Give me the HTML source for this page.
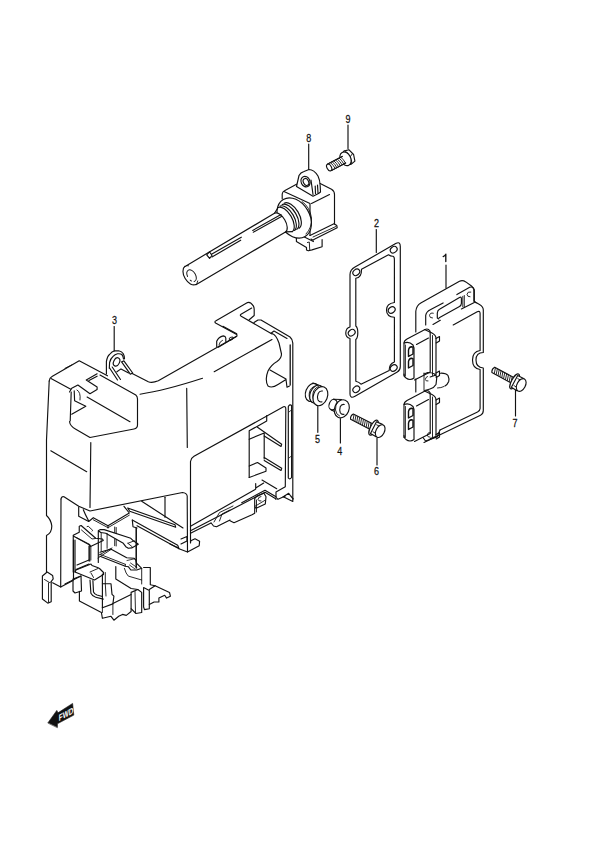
<!DOCTYPE html>
<html><head><meta charset="utf-8"><style>
html,body{margin:0;padding:0;background:#fff;}
svg{display:block;}
text{font-family:"Liberation Sans",sans-serif;font-size:11px;fill:#111;text-anchor:middle;stroke:#111;stroke-width:0.25px;}
</style></head><body>
<svg width="600" height="850" viewBox="0 0 600 850">
<g fill="none" stroke="#111" stroke-width="1.15" stroke-linecap="round" stroke-linejoin="round">
<text transform="translate(348 123) scale(0.82 1)">9</text>
<path d="M348.0,125.0 L348.0,148.5"/>
<text transform="translate(308.7 141.5) scale(0.82 1)">8</text>
<path d="M308.7,144.0 L308.7,169.5"/>
<text transform="translate(376.4 227) scale(0.82 1)">2</text>
<path d="M376.3,229.5 L376.3,252.5"/>
<path d="M443.2,256.6 Q445,255.8 445.8,254.2 L445.8,261.6" stroke-width="1.35"/>
<path d="M446.0,265.0 L446.0,288.0"/>
<text transform="translate(114.4 324) scale(0.82 1)">3</text>
<path d="M114.2,326.5 L114.2,351.0"/>
<text transform="translate(317.5 443) scale(0.82 1)">5</text>
<path d="M317.8,406.5 L317.8,432.3"/>
<text transform="translate(339.8 455) scale(0.82 1)">4</text>
<path d="M340.4,418.6 L340.4,443.0"/>
<text transform="translate(376.6 474.8) scale(0.82 1)">6</text>
<path d="M377.0,438.0 L377.0,465.0"/>
<text transform="translate(515 426.5) scale(0.82 1)">7</text>
<path d="M515.5,390.0 L515.5,416.0"/>
<path d="M282.2,199 L282.2,194 Q282.5,191.8 284.5,190.8 L296.5,184.2"/>
<path d="M320.2,183.5 L331.5,189.2 Q334.5,191 334.5,194.5 L334.5,224"/>
<path d="M284,191.5 L310,203.5 L310,235.5"/>
<path d="M311.5,203.5 L329.5,194.5"/>
<path d="M310,235.5 L334,223.7 L336.8,225.6 L337.2,227.8 L314.3,239.3 L313,240.2 L311,239"/>
<path d="M313.0,237.0 L335.9,226.5" stroke-width="0.9"/>
<path d="M296.4,237.5 L296.4,241.6 L306.5,247.6 L306.5,249.9 L308.3,250.8 L312,249.9 L322.1,246.7 L322.1,239.5"/>
<path d="M302.4,236.1 L313.4,241.6"/>
<path d="M307.4,242.5 L309.3,242 L309.7,249.9" stroke-width="0.9"/>
<path d="M296.5,186.5 L299,175.5 Q300.5,172.5 304,171.5 L309,169.5 Q314,169.5 318,176 Q320,180 320.2,186 L320.5,192 L318.5,193.5"/>
<path d="M296.5,186.5 L313,196.2 L318.5,193.5"/>
<ellipse cx="305.5" cy="181.6" rx="4.4" ry="5.4" transform="rotate(-25 305.5 181.6)"/>
<ellipse cx="306.0" cy="182.0" rx="2.6" ry="3.6" transform="rotate(-25 306.0 182.0)"/>
<path d="M311,180 L313,194.5"/>
<path d="M315.2,186 L315.5,193.5"/>
<path d="M317.5,185 L318,193"/>
<ellipse cx="294.2" cy="218.0" rx="15.5" ry="21.5" transform="rotate(-30.5 294.2 218.0)" fill="#fff"/>
<path d="M302,201.5 Q310,207 311.5,218 Q312,228 306,234" stroke-width="0.9"/>
<path d="M278.1,207.5 A7,14 -30.5 0 1 292.3,231.6"/>
<path d="M280.1,206.1 A7.2,14.2 -30.5 0 1 294.5,230.5"/>
<path d="M282.2,204.6 A7.4,14.4 -30.5 0 1 296.8,229.4"/>
<path d="M284.2,203.2 A7.6,14.6 -30.5 0 1 299.1,228.3"/>
<path d="M274.5,213.3 L278.1,207.5"/>
<path d="M285.5,231.9 L292.3,231.6"/>
<path d="M185.1,266.4 L274.5,213.3 A5.5,10.8 -30.5 0 1 285.5,231.9 L195.9,284.7 Z" stroke-width="0.01" fill="#fff"/>
<path d="M185.1,266.4 L274.5,213.3"/>
<path d="M195.9,284.7 L285.5,231.9"/>
<path d="M274.5,213.3 A5.5,10.8 -30.5 0 1 285.5,231.9"/>
<path d="M185.0,266.3 A6.5,10.6 -30.5 0 0 195.8,284.5"/>
<path d="M186.4,265.6 L188.5,265.8" stroke-width="0.9"/>
<path d="M197.7,280.9 L196.8,283.9" stroke-width="0.9"/>
<ellipse cx="191.6" cy="275.7" rx="4.0" ry="6.4" transform="rotate(-30.5 191.6 275.7)" stroke-width="0.95" stroke-dasharray="9 2.5 1.5 4.5 15"/>
<path d="M211.5,254.3 L241.3,237.2"/>
<path d="M212.0,257.0 L240.7,240.2"/>
<path d="M252.7,230.4 L281.0,214.6"/>
<path d="M253.3,232.2 L281.5,216.6"/>
<path d="M206.7,254.8 L209.5,251.8 L212.0,255.5 L209.6,258.4 Z"/>
<path d="M373.1,424.1 L353.3,414.0 Q350.1,415.8 350.6,419.3 L370.3,429.4"/>
<path d="M354.0,414.8 L353.0,420.2" stroke-width="0.9"/>
<path d="M355.9,415.8 L354.9,421.1" stroke-width="0.9"/>
<path d="M357.7,416.7 L356.8,422.1" stroke-width="0.9"/>
<path d="M359.6,417.7 L358.7,423.0" stroke-width="0.9"/>
<path d="M361.5,418.6 L360.6,424.0" stroke-width="0.9"/>
<path d="M363.4,419.6 L362.5,425.0" stroke-width="0.9"/>
<path d="M365.3,420.6 L364.3,425.9" stroke-width="0.9"/>
<path d="M367.2,421.5 L366.2,426.9" stroke-width="0.9"/>
<path d="M369.0,422.5 L368.1,427.8" stroke-width="0.9"/>
<path d="M370.9,423.4 L370.0,428.8" stroke-width="0.9"/>
<ellipse cx="373.5" cy="427.6" rx="3.0" ry="8.3" transform="rotate(27 373.5 427.6)" fill="#fff"/>
<path d="M376.5,421.8 L382.4,424.4 L383.7,427.5 L379.3,436.0 L376.1,436.8 L370.5,433.5 Z" fill="#fff"/>
<path d="M376.6,424.8 L379.8,426.3" stroke-width="0.9"/>
<path d="M373.0,431.8 L376.1,433.6" stroke-width="0.9"/>
<ellipse cx="380.2" cy="431.1" rx="4.2" ry="6.8" transform="rotate(27 380.2 431.1)" fill="#fff"/>
<path d="M514.2,377.8 L494.7,367.2 Q491.5,368.9 491.9,372.5 L511.4,383.1"/>
<path d="M495.4,368.1 L494.3,373.4" stroke-width="0.9"/>
<path d="M497.3,369.1 L496.2,374.4" stroke-width="0.9"/>
<path d="M499.1,370.1 L498.1,375.4" stroke-width="0.9"/>
<path d="M501.0,371.1 L499.9,376.4" stroke-width="0.9"/>
<path d="M502.8,372.1 L501.8,377.4" stroke-width="0.9"/>
<path d="M504.7,373.1 L503.6,378.4" stroke-width="0.9"/>
<path d="M506.6,374.1 L505.5,379.5" stroke-width="0.9"/>
<path d="M508.4,375.1 L507.3,380.5" stroke-width="0.9"/>
<path d="M510.3,376.1 L509.2,381.5" stroke-width="0.9"/>
<path d="M512.1,377.1 L511.0,382.5" stroke-width="0.9"/>
<ellipse cx="514.6" cy="381.4" rx="3.0" ry="8.3" transform="rotate(28.5 514.6 381.4)" fill="#fff"/>
<path d="M517.7,375.6 L523.6,378.4 L524.8,381.5 L520.2,389.9 L516.9,390.7 L511.4,387.2 Z" fill="#fff"/>
<path d="M517.8,378.7 L520.9,380.2" stroke-width="0.9"/>
<path d="M514.0,385.6 L517.0,387.4" stroke-width="0.9"/>
<ellipse cx="521.2" cy="385.0" rx="4.2" ry="6.8" transform="rotate(28.5 521.2 385.0)" fill="#fff"/>
<path d="M341.3,154.8 L343.9,151.1 L348.8,149.7 L353.6,154.5 L354.9,161.1 L351.0,164.4 L346.5,164.5 Z" fill="#fff"/>
<path d="M344.9,150.9 L347.9,153.2 M352.5,153.4 L350.3,156.8 M351.7,163.6 L351.5,160.1" stroke-width="0.9"/>
<ellipse cx="345.5" cy="158.8" rx="5.2" ry="7.2" transform="rotate(-28 345.5 158.8)" fill="#fff"/>
<path d="M342.2,156.4 L327.9,164.0 M331.3,170.5 L345.6,162.9" fill="#fff"/>
<path d="M327.9,164.0 L342.2,156.4 L345.6,162.9 L331.3,170.5 Z" stroke-width="0.01" fill="#fff"/>
<path d="M342.2,156.4 L327.9,164.0"/>
<path d="M331.3,170.5 L345.6,162.9"/>
<ellipse cx="329.2" cy="167.5" rx="2.2" ry="3.7" transform="rotate(-28 329.2 167.5)"/>
<path d="M330.7,162.8 Q333.4,165.2 335.0,168.2" stroke-width="0.9"/>
<path d="M332.4,161.9 Q335.1,164.3 336.7,167.3" stroke-width="0.9"/>
<path d="M334.1,161.0 Q336.8,163.4 338.4,166.4" stroke-width="0.9"/>
<path d="M335.8,160.1 Q338.6,162.5 340.2,165.5" stroke-width="0.9"/>
<path d="M337.5,159.2 Q340.3,161.5 341.9,164.5" stroke-width="0.9"/>
<path d="M339.3,158.2 Q342.0,160.6 343.6,163.6" stroke-width="0.9"/>
<path d="M341.0,157.3 Q343.7,159.7 345.3,162.7" stroke-width="0.9"/>
<path d="M355,267 L395.7,243.6 Q400.3,241 400.3,246.5 L400.3,366.5 Q400.3,370.3 397.3,372 L355,396.2 Q350,399 350,394 L350,338.5 Q345.5,337.5 345.8,332.7 Q346,328 350,327 L350,274.5 Q350,269.8 355,267 Z"/>
<path d="M361.5,269.3 L388.5,254.8 Q391,256.5 393,256.2 Q394.5,256.5 394.4,260 L394.4,302.5 Q386.5,303.5 386.5,310 Q386.5,316.8 394.4,317.3 L394.4,362 Q389,364 389.2,370.5 L361,384.2 Q359,382 355.8,381.2 L355.8,339.5 Q357.8,338 357.8,332.7 Q357.8,327.5 355.8,326 L355.8,278.3 Q361.8,277.6 361.5,269.3 Z"/>
<ellipse cx="356.3" cy="272.3" rx="3.7" ry="2.9" transform="rotate(-40 356.3 272.3)"/>
<ellipse cx="393.7" cy="249.7" rx="3.7" ry="2.9" transform="rotate(-40 393.7 249.7)"/>
<ellipse cx="391.7" cy="310.0" rx="3.7" ry="2.9" transform="rotate(-40 391.7 310.0)"/>
<ellipse cx="351.7" cy="332.7" rx="3.7" ry="2.9" transform="rotate(-40 351.7 332.7)"/>
<ellipse cx="393.7" cy="368.0" rx="3.7" ry="2.9" transform="rotate(-40 393.7 368.0)"/>
<ellipse cx="356.3" cy="389.3" rx="3.7" ry="2.9" transform="rotate(-40 356.3 389.3)"/>
<path d="M415.8,332 L415.8,311.3 Q416.5,305.5 420.8,303.1 L459.5,281.3 Q462.5,279.8 465.8,281.9 L471.5,286 Q473.9,288 473.9,291 L473.9,301.3 L479.5,304.4 Q483.3,306.5 483.3,310 L483.3,352.5 Q476,352.5 476,360 Q476,367.5 483.3,368 L483.3,410.5 Q483.3,413.8 480.5,415.3 L424,442.5"/>
<path d="M453.2,325 L477.2,311.8 Q480.1,310.5 480.1,313.5 L480.1,350.5 Q472.5,351.5 472.5,360 Q472.5,368.5 480.1,369.5 L480.1,408.5 Q480.1,410.5 477.5,412 L440,430"/>
<path d="M425.7,325 L425.7,315.3 Q426.5,311.5 430.3,309.8 L443.1,302.9"/>
<path d="M456.9,294.6 L469.7,287.3 Q473,286 474.3,289.6 L474.3,301.5 L476.1,302.9"/>
<path d="M461.4,308.9 L474.3,302.4"/>
<path d="M433.0,324.4 L440.3,320.3"/>
<path d="M438.8,319 L437.3,318 L437.3,313 Q437.6,310.3 439.5,309.3 L459.5,297.5 Q461.4,296.5 461.4,298.5 L461.4,303.4 Q461.3,305.5 459.5,306.5 L439.2,317.8"/>
<path d="M462.8,296.3 L462.8,306.8" stroke-width="0.9"/>
<path d="M464.3,295.5 L464.3,307.5" stroke-width="0.9"/>
<path d="M433.3,313.2 Q430,312.3 429.5,315.5 Q429.6,318.2 432.5,318" stroke-width="0.9"/>
<path d="M470.8,292 Q467.5,291.2 467,294.3 Q467.2,297 470,296.8" stroke-width="0.9"/>
<path d="M404,376 L404,343.5 Q404,340.5 407,339 L425,329.5 Q428,328 430,331 L430.2,334 L430.2,372 L414.5,380"/>
<path d="M404,343 Q409,341 413,345 L414,348 L414,378 Q410,381 406,378 Q404,377 404,374"/>
<path d="M405.5,345.0 L405.5,376.0" stroke-width="0.8"/>
<path d="M416.5,344.5 L428.5,338.0"/>
<path d="M408.5,350 Q409,347 411.5,346.8 L413,347.2 L413,354 L408.5,356.5 Z" stroke-width="1.4"/>
<path d="M408.5,361.5 Q409,358.5 411.5,358.3 L413,358.7 L413,365.5 L408.5,368 Z" stroke-width="1.4"/>
<path d="M424.5,329.5 L432,333 Q435.8,335 436,338 L436,375 L430.2,377"/>
<path d="M432.5,335.5 L432.5,375.5" stroke-width="0.9"/>
<path d="M436.0,338.5 L439.5,336.5 L439.5,341.0 L436.2,343.0"/>
<path d="M436.0,373.0 L439.5,371.0 L439.5,375.5 L436.2,377.5"/>
<path d="M404,437.5 L404,405.0 Q404,402.0 407,400.5 L425,391.0 Q428,389.5 430,392.5 L430.2,395.5 L430.2,433.5 L414.5,441.5"/>
<path d="M404,404.5 Q409,402.5 413,406.5 L414,409.5 L414,439.5 Q410,442.5 406,439.5 Q404,438.5 404,435.5"/>
<path d="M405.5,406.5 L405.5,437.5" stroke-width="0.8"/>
<path d="M416.5,406.0 L428.5,399.5"/>
<path d="M408.5,411.5 Q409,408.5 411.5,408.3 L413,408.7 L413,415.5 L408.5,418.0 Z" stroke-width="1.4"/>
<path d="M408.5,423.0 Q409,420.0 411.5,419.8 L413,420.2 L413,427.0 L408.5,429.5 Z" stroke-width="1.4"/>
<path d="M424.5,391.0 L432,394.5 Q435.8,396.5 436,399.5 L436,436.5 L430.2,438.5"/>
<path d="M432.5,397.0 L432.5,437.0" stroke-width="0.9"/>
<path d="M436.0,400.0 L439.5,398.0 L439.5,402.5 L436.2,404.5"/>
<path d="M436.0,434.5 L439.5,432.5 L439.5,437.0 L436.2,439.0"/>
<path d="M415.8,379.0 L415.8,392.0"/>
<path d="M424.0,373.0 L424.0,390.5" stroke-width="0.9"/>
<path d="M424,374 L427.7,372.5 Q432,372.5 434.5,374 Q437,376 436.7,378.5 L436,384.5 Q434,388 430,389 L424.7,390.5"/>
<path d="M427.5,376.5 Q425.5,377 425.3,379.5 Q425.7,381.5 428,381" stroke-width="0.9"/>
<path d="M440.5,373.2 Q446,373 448,375.5 Q449.5,379 448.7,381.5 Q447.5,384.5 445,386"/>
<path d="M437.5,388 Q441,388 444,386.5" stroke-width="0.9"/>
<path d="M430.5,432.5 Q427.5,432 427.3,435 Q427.5,437.5 430,437.2" stroke-width="0.9"/>
<path d="M423,437.5 L425.5,441 L437,437 L440,430"/>
<ellipse cx="312.3" cy="392.4" rx="6.6" ry="9.4" transform="rotate(22 312.3 392.4)" fill="#fff"/>
<path d="M315.3,386 Q310.5,387 309.3,393 Q308.5,399 312,402.5" stroke-width="0.9"/>
<path d="M312.8,383 L321.5,386.2 M311.8,401.8 L320.5,405.5"/>
<ellipse cx="316.5" cy="394.2" rx="6.4" ry="9.3" transform="rotate(22 316.5 394.2)" fill="#fff"/>
<path d="M318.5,386.5 Q313,388.5 312.8,395 Q312.5,401 316.5,404" stroke-width="0.9"/>
<ellipse cx="320.4" cy="396.2" rx="7.0" ry="9.9" transform="rotate(22 320.4 396.2)" fill="#fff"/>
<path d="M322.5,391 Q319.5,390.5 318.2,393.5 Q316.8,397 318,400 Q319.5,402.5 322,401.8" stroke-width="1.1"/>
<ellipse cx="333.0" cy="404.6" rx="3.8" ry="5.4" transform="rotate(22 333.0 404.6)" fill="#fff"/>
<path d="M333.5,399.2 L341.5,399.5 M331.5,410 L339.5,414"/>
<ellipse cx="341.8" cy="408.8" rx="7.2" ry="9.3" transform="rotate(22 341.8 408.8)" fill="#fff"/>
<path d="M338,401.5 Q335,405 335.5,410 Q336,414.5 339.5,416" stroke-width="0.9"/>
<path d="M344.3,404.5 Q341.5,404 340.2,406.8 Q339.2,410 340.3,412.8 Q341.8,415 344,414.2" stroke-width="1.1"/>
<path d="M48,722.7 L56.8,710.4 L58,712.8 L72.6,703.4 L73.8,715.1 L57.4,723.8 L57.4,727.3 Z" stroke-width="0.6" fill="#111"/>
<text x="0" y="0" textLength="14.5" lengthAdjust="spacingAndGlyphs" transform="matrix(1,-0.55,0,1,58.8,721.2)" style="font-size:9px;font-weight:bold;fill:#fff;stroke:none;text-anchor:start;">FWD</text>
<path d="M49.2,381 Q49.5,377.8 52,376.5 L79.2,360.8 L107.5,375.8"/>
<path d="M70.8,389.2 L51,378.6"/>
<path d="M100,375 L135.8,395 Q137.5,396.5 137.5,399 L137.5,425 Q137.5,428.3 134,429 L90,437.5 L75.8,429.2 Q70,426 69.5,421.5"/>
<path d="M87.1,397.1 L130.0,421.7"/>
<path d="M97.1,373.75 L86.25,380 L97.1,387.1 L97.1,389.6 L90,393.75 L77.9,385 L71.7,388.3 L69.5,392"/>
<path d="M97.1,376.2 L89,380.5"/>
<path d="M74.2,390.8 L74.6,400.8 L85.8,406.25 L71.7,414.2"/>
<path d="M71.2,392 L70.2,421"/>
<path d="M77,390 Q81,392 80,400" stroke-width="0.9"/>
<path d="M65,368.3 L71.7,365" stroke-width="0.9"/>
<path d="M106.4,374 L106.4,361.3 Q107.5,356 109.5,354.5 Q112,351.5 114.6,350.8 L118.7,350.8 Q122,351.5 123.3,353.8 Q124.5,356 124.5,358.8"/>
<path d="M109.3,368.3 L109.6,362.5 Q110.5,358.5 112.8,356.7 Q115,354.3 117.5,353.8 Q120.5,353.5 121.8,354.5 Q123.3,356 123.5,359"/>
<ellipse cx="116.6" cy="361.9" rx="2.9" ry="4.4" transform="rotate(25 116.6 361.9)"/>
<path d="M109.6,368.0 L117.5,380.0"/>
<path d="M112.2,367.0 L120.5,379.5"/>
<path d="M121.6,361.9 L123.9,360.8 L132.7,373.0 L130.3,374.2 L121.6,361.9"/>
<path d="M116.9,371.8 L121,368.9 L128.6,373"/>
<path d="M131.7,373.3 L148.3,381.7 Q152,383.3 158.3,380.8 L236.7,336.3"/>
<path d="M140,394.2 Q165,390.5 202.5,378.3"/>
<path d="M214.2,371.7 L272.0,339.5"/>
<path d="M186.7,388.3 L187.3,447.5"/>
<path d="M49.2,381 L46.5,440 L46.5,515.5 Q51,519.5 51.8,526 Q51.8,533 46.5,535.5 L46.5,572.5"/>
<path d="M50.8,450.8 L86.7,471.7"/>
<path d="M90.8,442.5 L90.0,507.5"/>
<path d="M216.7,346.5 L216.7,341.3 Q218.5,337 223.3,335.9 Q225.5,336 225.8,338 L225.8,341.5"/>
<path d="M219,344.8 Q219.5,341.5 222.5,340.3" stroke-width="0.9"/>
<path d="M218.3,347.2 L236.7,336.3 Q237.5,335 236.7,334.5 L216,323.2 Q213.8,321.8 216,320.8 L247.5,302.6 Q250.5,301.5 253.3,305.9 Q254.2,307.5 254.2,309.5 L254.2,315.5 L249.2,319.7"/>
<path d="M222.9,326.3 L236.7,333.8"/>
<path d="M251.7,308 L241,314.2 Q239.5,315.3 241.2,316.2 L272,334"/>
<ellipse cx="231.2" cy="338.6" rx="2.2" ry="1.3" transform="rotate(-30 231.2 338.6)" stroke-width="0.9"/>
<path d="M254,322.5 L258,320 L261,320 L290,337 Q292.8,339.5 292.8,343 L292.8,501.5 L283.3,496.7"/>
<path d="M271,333.2 L274,331 L287,338.5"/>
<path d="M272,333.5 Q276,334.5 279,343 L281.5,354 Q281.5,358.5 277,361.5 Q271,365 268,371 Q264.5,380 268,386 Q272,388.5 278,384.5 L286,379.5 L287,387.2 L289.5,386"/>
<path d="M270.0,370.0 L286.0,379.0"/>
<path d="M290.2,345 L290.2,385" stroke-width="1.3"/>
<path d="M190.5,543 L190.5,461.5 Q191,458 194,456.3 L283.5,406.8 Q285.8,406 285.8,409 L285.3,486.7 L276,492 L276,497.3 L278,499.3 L285.3,496"/>
<path d="M288.3,406.5 Q289.8,403.8 291.6,405.5 L291.6,477.5 Q289.8,480 288.3,478 Z"/>
<path d="M289,412 L290.8,410.5 M289,458 L290.8,456.5" stroke-width="0.8"/>
<path d="M249.2,477.5 L249.2,430.8 L257.5,426.2 L266.7,421 L266.7,415.5"/>
<path d="M249.2,439.2 L264.2,433 L264.2,459"/>
<path d="M257.5,427.2 L281.7,444.2 L281,446.5 L264.2,436"/>
<path d="M264.2,457.5 L281.7,468.3 L281,470.5 L264.2,460.5"/>
<path d="M249.2,466 L257.5,462.5 L266,468 L266,471.3 L249.2,477.5"/>
<path d="M262,480 L276.7,488.7"/>
<path d="M283.3,496.7 L288.7,493.3 L290.7,496.0 L293.3,499.0"/>
<path d="M190.5,526.3 L254.7,489.7 L255.7,489 L255.7,483.5 M255.7,488 L263.7,483"/>
<path d="M241.7,502.7 L265,490.3 L276,496.8"/>
<path d="M190.5,530.8 L265,492.3 L275.3,498.5 L276,499.3"/>
<path d="M190.5,533.3 L211.0,523.0"/>
<path d="M255,506.3 L265,500.3" stroke-width="0.9"/>
<path d="M211.2,523 L213.5,526 L216.5,526.7 L230,520 M230,520.8 L234,522.7 L252,514.7 L254.7,513.3 L254.7,498.7 L256.7,496 L264,493.3 L266,496.7 L265.3,504 L256.7,508 L254.7,507.3"/>
<path d="M256.5,500.0 L256.5,512.0" stroke-width="0.9"/>
<path d="M214,522 L219.5,512.5 L230,507.5 L233,506 M219.5,521 L222,514 L230,510" stroke-width="0.9"/>
<path d="M261,496.5 Q258,497 258,499.5 Q258.5,501.5 261,501" stroke-width="0.9"/>
<path d="M61,499 Q61.5,496 64,496.8 L78.7,506.3 L90,511 L182.5,492.5 Q186.7,493 187.2,496 L187.5,552"/>
<path d="M165.0,497.3 L165.0,517.3"/>
<path d="M141.7,501.3 L183.0,528.0"/>
<path d="M127.7,508 L175,524.7 L175.7,527.3 L129.7,511.3 Z"/>
<path d="M61.0,499.0 L60.7,586.9"/>
<path d="M78.7,507 L78.7,516.3 L88.7,521.5 L93.3,517.7 L108,525.7 L129.3,513 L124,506.3"/>
<path d="M93.3,519.8 L108,527.7 L129.3,515.2" stroke-width="0.9"/>
<path d="M83.3,509.7 Q85,514 88.7,521"/>
<path d="M108.0,525.7 L108.0,528.0"/>
<path d="M73.25,572 L73.25,535.25 L79.25,532.25 L79.25,526.25 L81.1,525.5 L95.75,538.25 L102.5,539 L103.25,540.5 L90.5,546.5 L89.75,545 L73.25,536"/>
<path d="M81.5,530 L92,539 L95.5,538.5" stroke-width="0.9"/>
<path d="M87.1,526.6 L88.25,526.25 L92.75,530.4 L92,531.1" stroke-width="0.9"/>
<path d="M76.2,537.5 L89.5,544.3" stroke-width="0.9"/>
<path d="M89.8,545.0 L89.8,561.0"/>
<path d="M90.9,546.5 L90.9,560.0" stroke-width="0.8"/>
<path d="M98.3,562.5 L98.3,530.8 L100,529.6 L104.2,529.6 L130.8,538.3 L132.9,540.4 L136.7,542.9 L138.3,544.2 L131.7,547.9 L128.3,548.3 L125.8,546.7 L123.3,543.3 L105.8,533.3 L100.8,532.5 L98.3,530.8"/>
<path d="M127.9,543.3 L134.2,540.8 M132.1,546.7 L127.9,543.3" stroke-width="0.9"/>
<path d="M101.2,532.5 L101.2,551.5" stroke-width="0.9"/>
<path d="M107.1,533.5 L107.1,548.3" stroke-width="0.9"/>
<path d="M114.7,527 L114.7,532.5 M114.7,539 L114.7,545.7 M116.2,527.5 L116.2,533 M116.2,539.5 L116.2,546" stroke-width="0.9"/>
<path d="M136.2,528.0 L136.2,568.0"/>
<path d="M100,552.3 L110.7,549 L126.7,557.7 L134.2,558.3 L135.8,560 L136.7,563.3 L141.7,568.3 L136.7,570 L130.8,570 L128.3,566.7 L125.3,566.3 L100,556.3"/>
<path d="M100.0,554.3 L125.3,564.3" stroke-width="0.9"/>
<path d="M125.3,564.3 L125.3,566.3" stroke-width="0.9"/>
<path d="M127,560.5 L134.5,558.8 M130.5,563 L137,567.5 M129.5,565 L135,569" stroke-width="0.8"/>
<path d="M89.0,546.0 L89.0,561.0"/>
<path d="M77,565 L89,560 M76,569.5 L89,564"/>
<path d="M75,572 L76,570 L91,564 L92,565.5 L97.5,567.5 L99.5,568.5 L103.5,572.5 L103.5,574.5 L94.5,580 L75,572"/>
<path d="M90,572 L98,568.5 M91,573 L93.5,577.5" stroke-width="0.9"/>
<path d="M90,580 L90.9,593.3 Q92.5,596.5 95.7,597.2 L103.3,599.1 M92.9,580.5 L93.5,592 Q94.5,594.2 97,595 L102.4,596.5"/>
<path d="M102.4,574.0 L102.4,607.7"/>
<path d="M105.3,572.5 L105.3,583.5" stroke-width="0.9"/>
<path d="M102.4,583.7 L111,583.7 L112,594.3 L113.9,596.2 L112.9,603.9 L102.4,607.7"/>
<path d="M105.3,583.7 L106.0,596.0" stroke-width="0.9"/>
<path d="M98,558 L111,549.5 M99,555 L112,548" stroke-width="0.9"/>
<path d="M115.8,566.5 L115.8,579 L131.1,588.5 L137.8,589.5"/>
<path d="M124.4,568.4 Q126,574 128.3,576.1 L141.7,580" stroke-width="0.9"/>
<path d="M143.6,567.5 L150.3,567.5 L150.3,584.7 L155.1,585.7"/>
<path d="M141.7,568.5 L141.7,584.0" stroke-width="0.9"/>
<path d="M65,584 L81,576"/>
<path d="M73,579 L81,576 L81.5,591 L75,593 L73,591 Z"/>
<path d="M73.5,540.0 L73.5,579.0"/>
<path d="M75.0,540.0 L75.0,572.0"/>
<path d="M42.4,599 L42.4,576 L47.2,572 L52.6,575.4 L53.2,578.8 L51.2,581.5 L51.2,601.8 L47.8,603.1 Z"/>
<path d="M44.5,579.5 L49.9,582.8 L51.2,581.5" stroke-width="0.9"/>
<path d="M48.5,583.0 L48.5,602.0" stroke-width="0.9"/>
<path d="M52.6,582.8 L60.7,586.9 L73,580.5"/>
<path d="M79.4,591.4 L79.4,601 L101.4,612.5 L102.4,618.3 L111,616.3 L113.9,620.2 L118.7,616.3 L122.5,614.4 L126.3,615.4 L131.1,611.5 L131.1,608.7"/>
<path d="M112.9,603.9 L112.9,614.5 M102.4,607.7 L102.4,612.5" stroke-width="0.9"/>
<path d="M112.9,603.5 L131.1,594.5"/>
<path d="M132.3,520 L133,526.7 L137,528 M179,548.7 L187.5,552 L199.2,545.8 L199.6,541.2 L195,538.8 L190.8,540.8 L190.5,542.5"/>
<path d="M170.0,544.0 L177.5,547.5"/>
<path d="M132.3,520 L177.7,545.3 L179,548.7 L137,525.8"/>
<path d="M181,539 L187,536.5 L187,541 L181,544"/>
<path d="M131.1,592.4 L137.8,589.5 L141.7,592.4 L141.7,612.5 L135.9,613.5 L131.1,608.7 Z"/>
<path d="M135.0,591.5 L135.5,612.5" stroke-width="0.9"/>
<path d="M143.6,587.6 L149.3,590.5 L149.3,608.7 L144.5,609.6 L143.6,607 Z"/>
<path d="M149.3,589.5 L155.1,585.7 L169.5,592.4 L170.4,596.2 L166.6,598.1 L164.7,595.3 L158.9,598.1 L158.9,602 L154.1,602 L149.3,604.5"/>
<path d="M136.3,528.0 L136.3,568.0"/>
</g>
</svg>
</body></html>
